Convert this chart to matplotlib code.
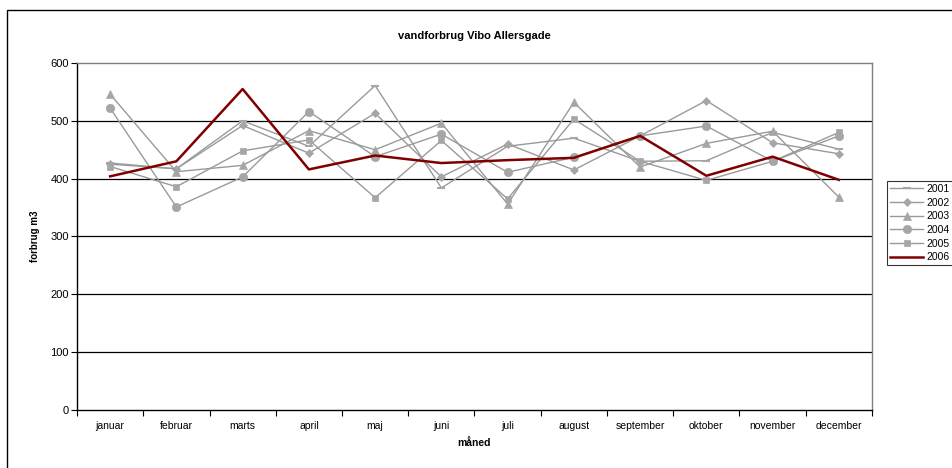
import numpy as np
import matplotlib.pyplot as plt
from matplotlib.patches import Rectangle

plt.rcParams['font.family'] = ['Liberation Sans', 'DejaVu Sans']

maaneder = ['januar', 'februar', 'marts', 'april', 'maj', 'juni', 'juli',
            'august', 'september', 'oktober', 'november', 'december']

# forbrug i m3 pr. måned
aar_2001 = [427, 417, 500, 456, 561, 384, 456, 470, 430, 431, 480, 451]
aar_2002 = [425, 417, 492, 444, 513, 403, 460, 415, 474, 535, 462, 443]
aar_2003 = [546, 412, 423, 483, 450, 496, 356, 532, 420, 461, 482, 368]
aar_2004 = [522, 351, 403, 516, 438, 477, 411, 437, 474, 491, 430, 474]
aar_2005 = [421, 386, 448, 467, 367, 466, 365, 503, 430, 397, 430, 480]
aar_2006 = [404, 430, 555, 416, 440, 427, 432, 436, 474, 405, 438, 398]

fig = plt.figure(figsize=(9.53, 4.68), dpi=100)
ax = fig.add_axes([0.0808, 0.124, 0.8342, 0.7414])

x = np.arange(len(maaneder))
graa = '#9a9a9a'
mgraa = '#a6a6a6'

serier = [('2001', aar_2001, '_', 6), ('2002', aar_2002, 'D', 4),
          ('2003', aar_2003, '^', 5.5), ('2004', aar_2004, 'o', 6),
          ('2005', aar_2005, 's', 5)]
for navn, v, m, ms in serier:
    ax.plot(x, v, color=graa, lw=1.0, marker=m, ms=ms, mfc=mgraa, mec=mgraa,
            mew=1.5 if m == '_' else 0.5, label=navn, zorder=3)
ax.plot(x, aar_2006, color='#800000', lw=1.8, label='2006', zorder=4)

ax.set_xlim(-0.5, len(maaneder) - 0.5)
ax.set_ylim(0, 600)
ax.set_yticks(range(0, 601, 100))
for y in range(100, 600, 100):
    ax.axhline(y, color='black', lw=0.9, zorder=1)

ax.set_xticks(x)
ax.set_xticklabels(maaneder, fontsize=7.5)
ax.set_xticks(np.arange(-0.5, len(maaneder)), minor=True)
ax.tick_params(axis='x', which='major', length=0, pad=8)
ax.tick_params(axis='x', which='minor', length=4, width=0.8, direction='out')
ax.tick_params(axis='y', length=4, width=0.8, labelsize=8, pad=2)

ax.spines['left'].set_color('black')
ax.spines['bottom'].set_color('black')
ax.spines['top'].set_color('#808080')
ax.spines['right'].set_color('#808080')
for s in ax.spines.values():
    s.set_linewidth(1.0)

ax.set_title('vandforbrug Vibo Allersgade', fontsize=8, fontweight='bold', pad=17)
ax.set_xlabel('måned', fontsize=7.5, fontweight='bold', labelpad=5)
ax.set_ylabel('forbrug m3', fontsize=7, fontweight='bold', labelpad=7)

leg = fig.legend(loc='upper left', bbox_to_anchor=(887 / 953, 1 - 181 / 468),
                 fontsize=7.5, frameon=True, fancybox=False, edgecolor='black',
                 handlelength=3.2, handletextpad=0.3, labelspacing=0.35,
                 borderpad=0.3, borderaxespad=0)
leg.get_frame().set_linewidth(0.8)

# ramme om hele diagrammet
fig.patches.append(Rectangle((7 / 953, -0.1), 1.2, 1.1 - 10 / 468,
                             transform=fig.transFigure, fill=False,
                             edgecolor='black', lw=1.0))

fig.savefig('out.png', dpi=100)
